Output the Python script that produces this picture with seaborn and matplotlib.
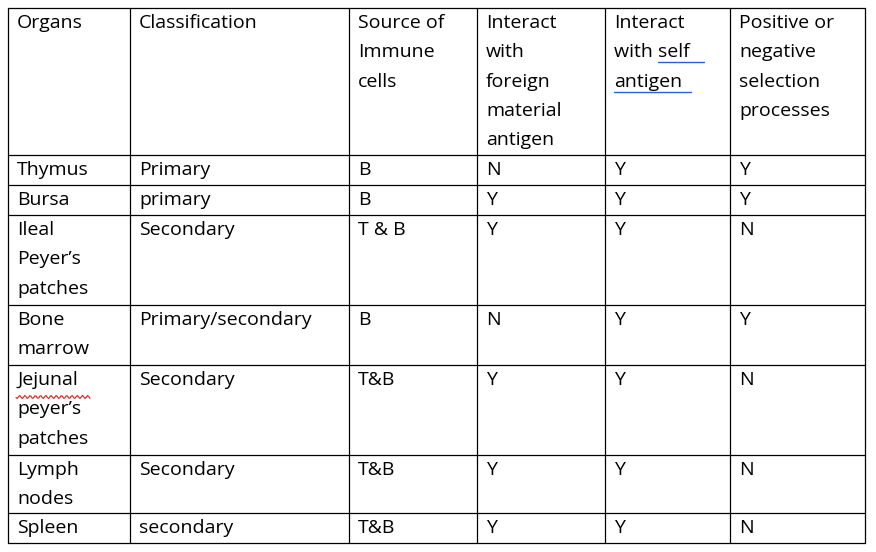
import matplotlib
matplotlib.use("Agg")
import matplotlib.pyplot as plt
import seaborn as sns
import numpy as np

sns.set_theme(style="white")
plt.rcParams['font.family'] = ['Open Sans', 'DejaVu Sans']

headers = [["Organs"], ["Classification"], ["Source of", "Immune", "cells"],
           ["Interact", "with", "foreign", "material", "antigen"],
           ["Interact", "with self", "antigen"],
           ["Positive or", "negative", "selection", "processes"]]
organs = [["Thymus"], ["Bursa"], ["Ileal", "Peyer\u2019s", "patches"], ["Bone", "marrow"],
          ["Jejunal", "peyer\u2019s", "patches"], ["Lymph", "nodes"], ["Spleen"]]
classification = ["Primary", "primary", "Secondary", "Primary/secondary", "Secondary", "Secondary", "secondary"]
source = ["B", "B", "T & B", "B", "T&B", "T&B", "T&B"]
foreign = ["N", "Y", "Y", "N", "Y", "Y", "Y"]
self_ag = ["Y", "Y", "Y", "Y", "Y", "Y", "Y"]
selection = ["Y", "Y", "N", "Y", "N", "N", "N"]

col_x = [8, 130, 349, 477, 605, 730, 865]
row_y = [8, 155, 185, 215, 305, 365, 455, 513, 543]
lh = 29.3

fig = plt.figure(figsize=(8.76, 5.52), dpi=100)
ax = fig.add_axes([0, 0, 1, 1])
ax.set_xlim(0, 876)
ax.set_ylim(552, 0)
ax.axis('off')

for x in col_x:
    ax.plot([x, x], [row_y[0], row_y[-1]], color='black', lw=0.9)
for y in row_y:
    ax.plot([col_x[0], col_x[-1]], [y, y], color='black', lw=0.9)

def cell(c, r, lines):
    for i, t in enumerate(lines):
        ax.text(col_x[c] + 9, row_y[r] + 6 + lh * i, t, fontsize=14,
                va='top', ha='left', color='black')

for c, h in enumerate(headers):
    cell(c, 0, h)
for r in range(len(organs)):
    cell(0, r + 1, organs[r])
    cell(1, r + 1, [classification[r]])
    cell(2, r + 1, [source[r]])
    cell(3, r + 1, [foreign[r]])
    cell(4, r + 1, [self_ag[r]])
    cell(5, r + 1, [selection[r]])

# blue underline under "self antigen"
ax.plot([658, 704], [62, 62], color='#2b5fd9', lw=1.0)
ax.plot([614, 691], [92, 92], color='#2b5fd9', lw=1.0)
# red squiggle under "peyer's"
xs = np.linspace(16, 90, 60)
ax.plot(xs, 397 + 1.5 * np.sin(xs * 1.2), color='#d02020', lw=0.8)

fig.savefig("out.png", dpi=100, facecolor='white')
